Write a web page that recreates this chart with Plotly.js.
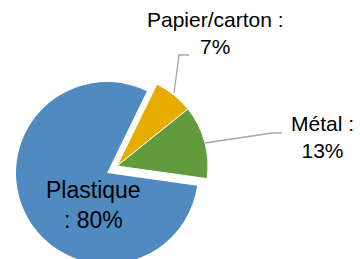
<!DOCTYPE html>
<html>
<head>
<meta charset="utf-8">
<script src="https://cdn.plot.ly/plotly-3.0.1.min.js"></script>
<style>
html,body{margin:0;padding:0;width:360px;height:259px;overflow:hidden;background:#fff;}
#chart{width:360px;height:280px;}
</style>
</head>
<body>
<div id="chart"></div>
<script>
// Data
var categories = ["Papier/carton", "Métal", "Plastique"];
var values = [7, 13, 80];
var colors = ["#E6AC00", "#629B3E", "#4F8BC0"];
var labelTexts = ["Papier/carton :<br>7%", "Métal :<br>13%", "Plastique<br>: 80%"];

var W = 360, H = 280;
function dom(cx, cy, r) {
  return {x: [(cx - r) / W, (cx + r) / W], y: [(H - cy - r) / H, (H - cy + r) / H]};
}

// Main pie: only Plastique visible
var trace1 = {
  type: "pie", labels: categories, values: values, sort: false,
  direction: "clockwise", rotation: 26,
  marker: {colors: ["rgba(0,0,0,0)", "rgba(0,0,0,0)", colors[2]], line: {width: 0}},
  textinfo: "none", hoverinfo: "none", showlegend: false,
  domain: dom(107, 173, 91)
};
// Exploded group: Papier/carton + Métal
var trace2 = {
  type: "pie", labels: categories, values: values, sort: false,
  direction: "clockwise", rotation: 26,
  marker: {colors: [colors[0], colors[1], "rgba(0,0,0,0)"], line: {color: "#ffffff", width: [1, 1, 0]}},
  textinfo: "none", hoverinfo: "none", showlegend: false,
  domain: dom(117, 166, 91)
};

function px(x) { return x / W; }
function py(y) { return 1 - y / H; }

var font = {family: "Liberation Sans, Arial, sans-serif", color: "#000000"};
function ann(i, x, y, size) {
  return {text: labelTexts[i], x: px(x), y: py(y), xref: "paper", yref: "paper", showarrow: false,
          xanchor: "center", yanchor: "middle", align: "center",
          font: Object.assign({size: size}, font)};
}
var annotations = [
  ann(0, 215, 33, 21),
  ann(1, 322, 137, 21),
  ann(2, 93, 205, 23)
];

var lineStyle = {color: "#A6A6A6", width: 1.3};
var shapes = [
  {type: "path", xref: "paper", yref: "paper",
   path: "M" + px(174) + "," + py(93) + " L" + px(179) + "," + py(55) + " L" + px(189) + "," + py(55),
   line: lineStyle},
  {type: "path", xref: "paper", yref: "paper",
   path: "M" + px(205) + "," + py(143) + " L" + px(272) + "," + py(133) + " L" + px(282) + "," + py(133),
   line: lineStyle}
];

var layout = {
  width: W, height: H,
  margin: {l: 0, r: 0, t: 0, b: 0},
  paper_bgcolor: "#ffffff",
  annotations: annotations,
  shapes: shapes,
  showlegend: false
};

Plotly.newPlot("chart", [trace1, trace2], layout, {staticPlot: true, displayModeBar: false});
</script>
</body>
</html>
